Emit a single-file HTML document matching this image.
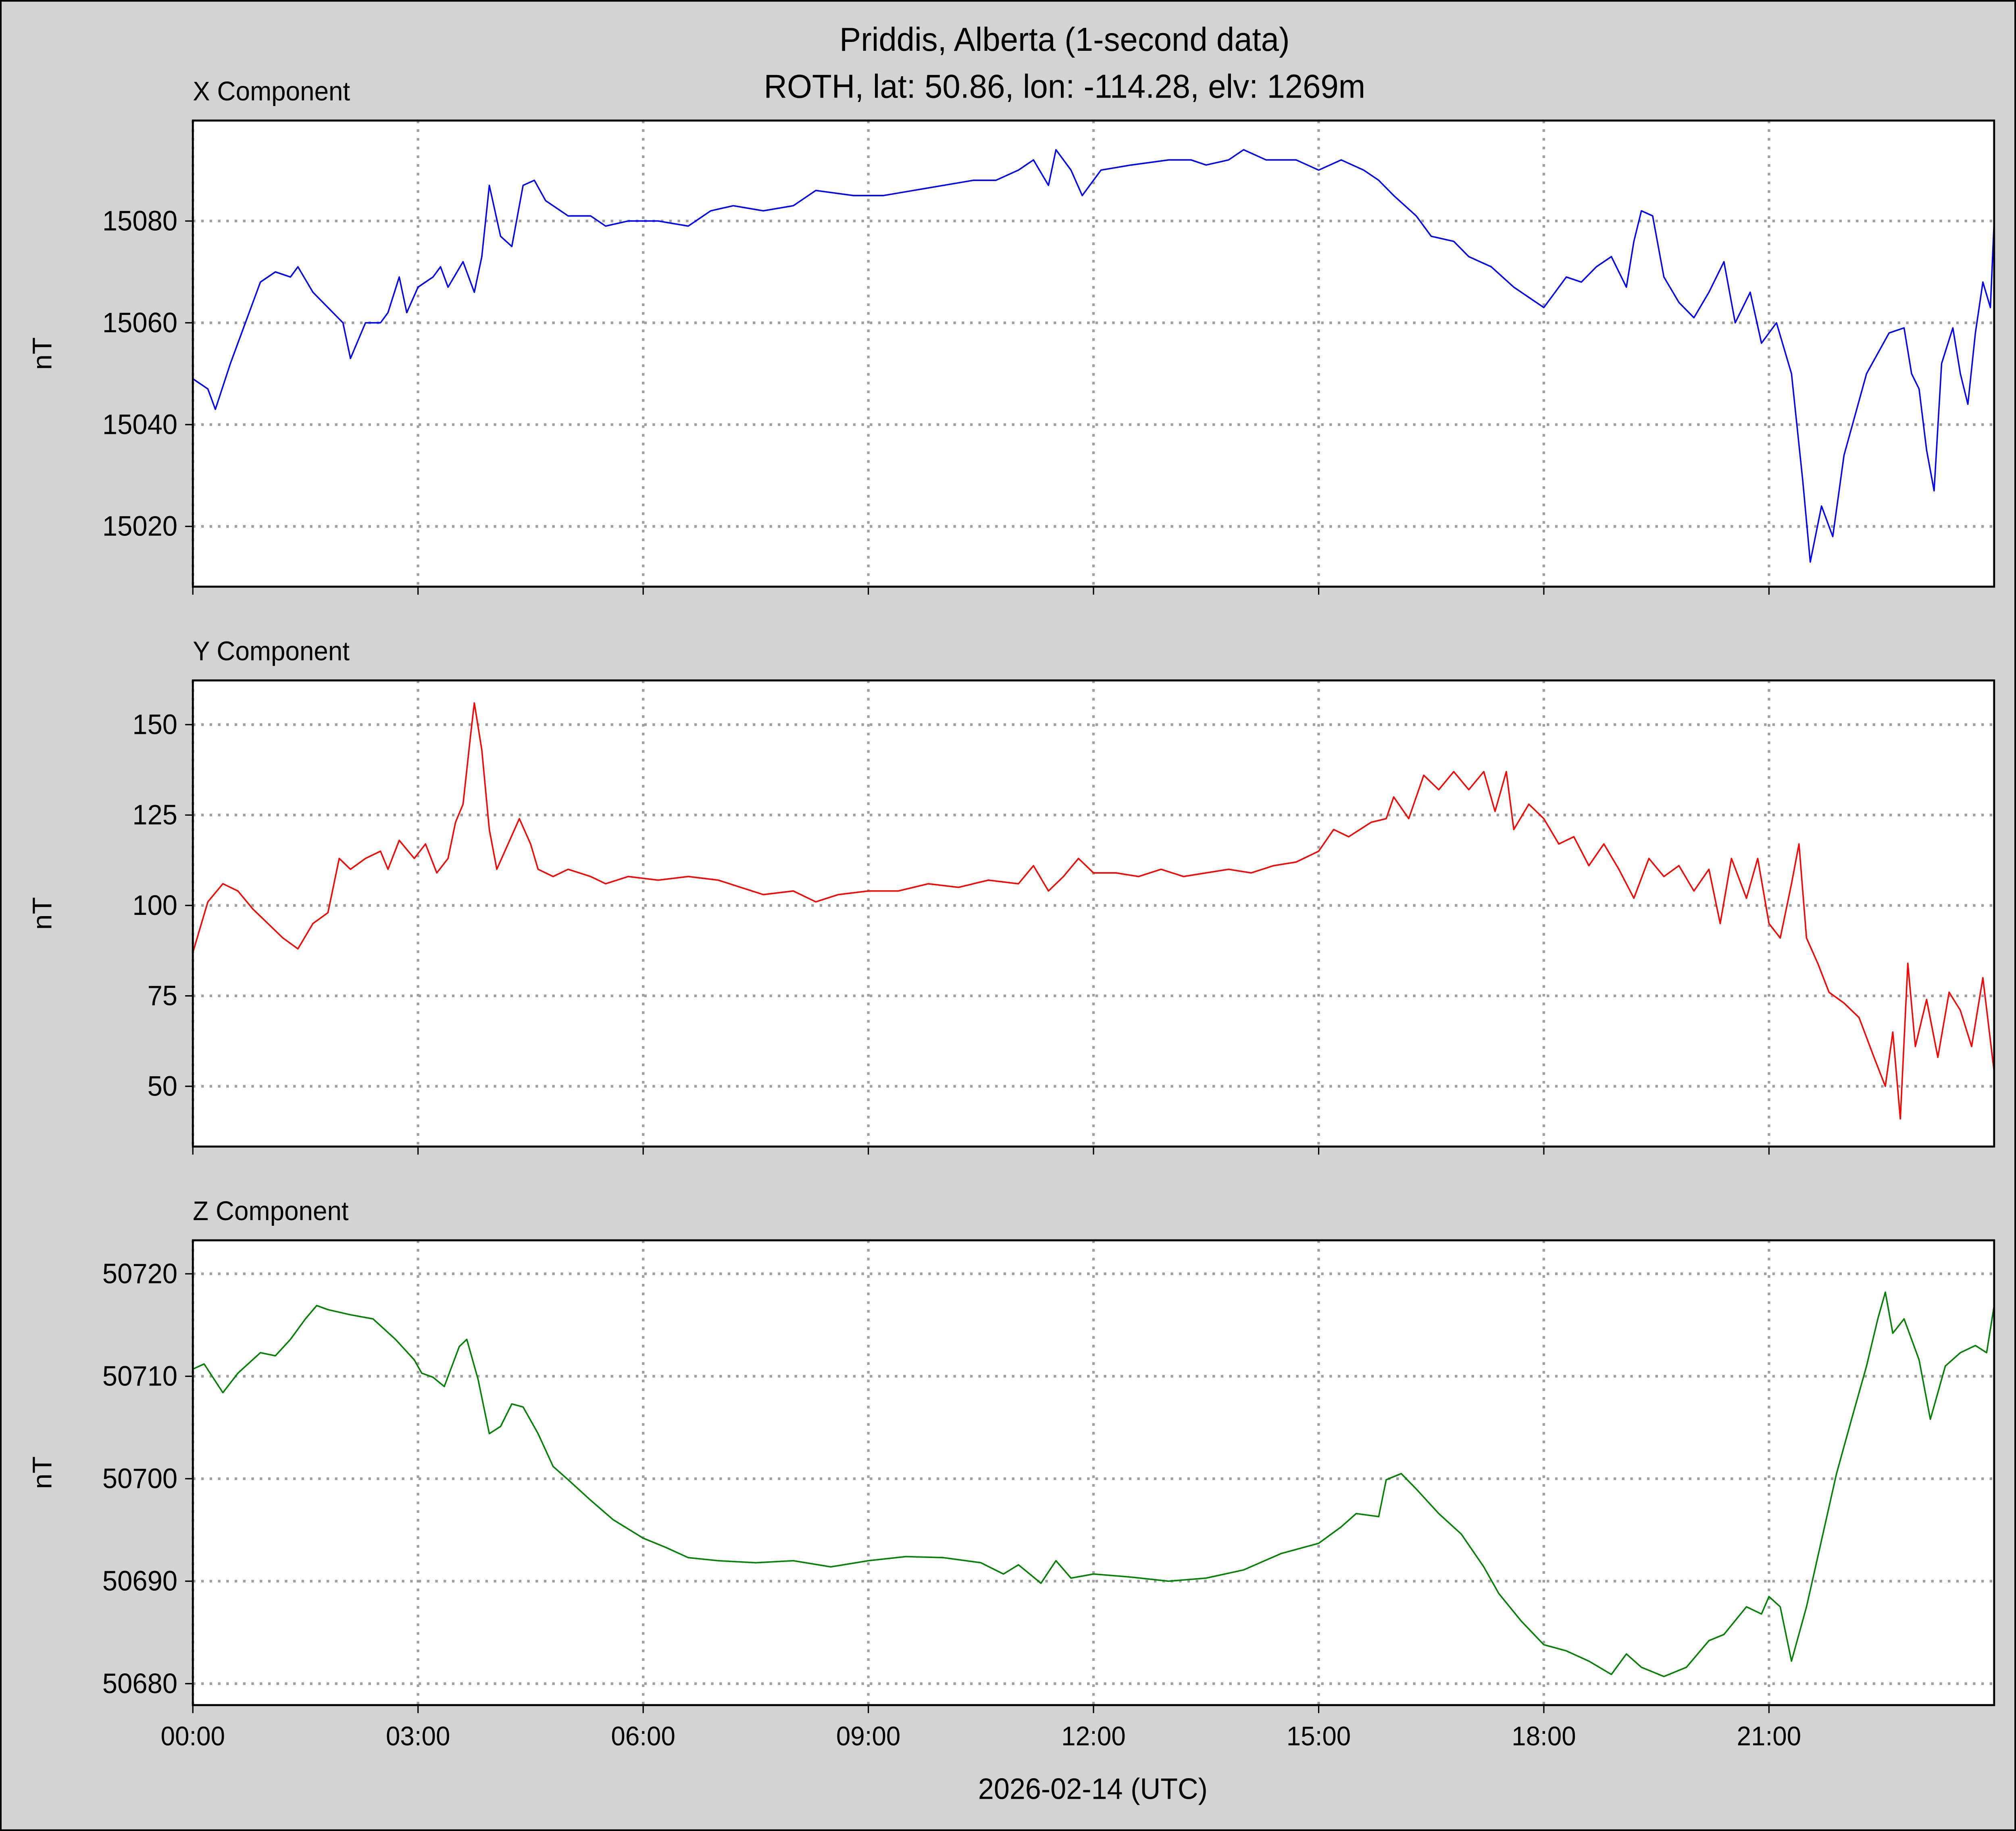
<!DOCTYPE html>
<html><head><meta charset="utf-8"><style>
html,body{margin:0;padding:0;background:#d3d3d3;overflow:hidden;width:100%;height:100%}
svg{display:block;position:fixed;left:0;top:0;width:100vw;height:100vh}
text{font-family:"Liberation Sans","DejaVu Sans",sans-serif;fill:#000}
</style></head><body>
<svg id="fig" viewBox="0 0 1568 1367" preserveAspectRatio="none" xmlns="http://www.w3.org/2000/svg">
<rect x="0.5" y="0.5" width="1567" height="1366" fill="#d3d3d3" stroke="#000" stroke-width="1.5"/>
<text x="828" y="38" font-size="25" text-anchor="middle">Priddis, Alberta (1-second data)</text>
<text x="828" y="73" font-size="25" text-anchor="middle">ROTH, lat: 50.86, lon: -114.28, elv: 1269m</text>
<text x="850" y="1343" font-size="22" text-anchor="middle">2026-02-14 (UTC)</text>
</svg>
<script>
const timeTicks=[0,3,6,9,12,15,18,21];
const timeLabels=["00:00","03:00","06:00","09:00","12:00","15:00","18:00","21:00"];
const xTimes=[0,0.2,0.3,0.5,0.7,0.9,1.1,1.3,1.4,1.6,1.8,2.0,2.1,2.3,2.5,2.6,2.75,2.85,3.0,3.2,3.3,3.4,3.6,3.75,3.85,3.95,4.1,4.25,4.4,4.55,4.7,5.0,5.3,5.5,5.8,6.2,6.6,6.9,7.2,7.6,8.0,8.3,8.8,9.2,9.6,10.0,10.4,10.7,11.0,11.2,11.4,11.5,11.7,11.85,12.1,12.5,13.0,13.3,13.5,13.8,14.0,14.3,14.7,15.0,15.3,15.6,15.8,16.0,16.3,16.5,16.8,17.0,17.3,17.6,17.9,18.0,18.3,18.5,18.7,18.9,19.1,19.2,19.3,19.45,19.6,19.8,20.0,20.2,20.4,20.55,20.75,20.9,21.1,21.3,21.45,21.55,21.7,21.85,22.0,22.15,22.3,22.45,22.6,22.8,22.9,23.0,23.1,23.2,23.3,23.45,23.55,23.65,23.75,23.85,23.95,24.0];
const xValues=[15049,15047,15043,15052,15060,15068,15070,15069,15071,15066,15063,15060,15053,15060,15060,15062,15069,15062,15067,15069,15071,15067,15072,15066,15073,15087,15077,15075,15087,15088,15084,15081,15081,15079,15080,15080,15079,15082,15083,15082,15083,15086,15085,15085,15086,15087,15088,15088,15090,15092,15087,15094,15090,15085,15090,15091,15092,15092,15091,15092,15094,15092,15092,15090,15092,15090,15088,15085,15081,15077,15076,15073,15071,15067,15064,15063,15069,15068,15071,15073,15067,15076,15082,15081,15069,15064,15061,15066,15072,15060,15066,15056,15060,15050,15029,15013,15024,15018,15034,15042,15050,15054,15058,15059,15050,15047,15035,15027,15052,15059,15050,15044,15058,15068,15063,15080];
const yTimes=[0,0.2,0.4,0.6,0.8,1.0,1.2,1.4,1.6,1.8,1.95,2.1,2.3,2.5,2.6,2.75,2.95,3.1,3.25,3.4,3.5,3.6,3.7,3.75,3.85,3.95,4.05,4.2,4.35,4.5,4.6,4.8,5.0,5.3,5.5,5.8,6.2,6.6,7.0,7.3,7.6,8.0,8.3,8.6,9.0,9.4,9.8,10.2,10.6,11.0,11.2,11.4,11.6,11.8,12.0,12.3,12.6,12.9,13.2,13.5,13.8,14.1,14.4,14.7,15.0,15.2,15.4,15.7,15.9,16.0,16.2,16.4,16.6,16.8,17.0,17.2,17.35,17.5,17.6,17.8,18.0,18.2,18.4,18.6,18.8,19.0,19.2,19.4,19.6,19.8,20.0,20.2,20.35,20.5,20.7,20.85,21.0,21.15,21.3,21.4,21.5,21.65,21.8,22.0,22.2,22.4,22.55,22.65,22.75,22.85,22.95,23.1,23.25,23.4,23.55,23.7,23.85,24.0];
const yValues=[87,101,106,104,99,95,91,88,95,98,113,110,113,115,110,118,113,117,109,113,123,128,147,156,143,121,110,117,124,117,110,108,110,108,106,108,107,108,107,105,103,104,101,103,104,104,106,105,107,106,111,104,108,113,109,109,108,110,108,109,110,109,111,112,115,121,119,123,124,130,124,136,132,137,132,137,126,137,121,128,124,117,119,111,117,110,102,113,108,111,104,110,95,113,102,113,95,91,106,117,91,84,76,73,69,58,50,65,41,84,61,74,58,76,71,61,80,54];
const zTimes=[0,0.15,0.4,0.6,0.9,1.1,1.3,1.5,1.65,1.8,2.1,2.4,2.7,2.95,3.05,3.2,3.35,3.55,3.65,3.8,3.95,4.1,4.25,4.4,4.6,4.8,5.0,5.3,5.6,6.0,6.3,6.6,7.0,7.5,8.0,8.5,9.0,9.5,10.0,10.5,10.8,11.0,11.3,11.5,11.7,12.0,12.5,13.0,13.5,14.0,14.5,15.0,15.3,15.5,15.8,15.9,16.1,16.3,16.6,16.9,17.2,17.4,17.7,18.0,18.3,18.6,18.9,19.1,19.3,19.6,19.9,20.2,20.4,20.7,20.9,21.0,21.15,21.3,21.5,21.7,21.9,22.1,22.3,22.45,22.55,22.65,22.8,23.0,23.15,23.35,23.55,23.75,23.9,24.0];
const zValues=[50710.7,50711.2,50708.4,50710.3,50712.3,50712.0,50713.6,50715.6,50716.9,50716.5,50716,50715.6,50713.6,50711.6,50710.3,50709.9,50709,50712.9,50713.6,50709.7,50704.4,50705.1,50707.3,50707,50704.4,50701.2,50699.9,50697.9,50696,50694.2,50693.3,50692.3,50692,50691.8,50692,50691.4,50692,50692.4,50692.3,50691.8,50690.7,50691.6,50689.8,50692,50690.3,50690.7,50690.4,50690,50690.3,50691.1,50692.7,50693.7,50695.3,50696.6,50696.3,50699.9,50700.5,50699,50696.6,50694.6,50691.4,50688.8,50686.1,50683.8,50683.2,50682.2,50680.9,50682.9,50681.6,50680.7,50681.6,50684.2,50684.8,50687.5,50686.8,50688.5,50687.5,50682.2,50687.5,50694,50700.5,50705.8,50711,50715.6,50718.2,50714.2,50715.6,50711.6,50705.8,50711,50712.3,50713,50712.3,50716.9];
const xTicksX=[15020,15040,15060,15080];
const yTicksY=[50,75,100,125,150];
const zTicksZ=[50680,50690,50700,50710,50720];

const NS="http://www.w3.org/2000/svg";
const fig=document.getElementById('fig');
const L=150,R=1551;
const tx=t=>L+(R-L)*t/24;
function mk(tag,attrs,parent){const e=document.createElementNS(NS,tag);for(const k in attrs)e.setAttribute(k,attrs[k]);(parent||fig).appendChild(e);return e;}
function panel(name,top,bot,vTop,vBot,ticks,times,vals,color,title,showX){
  const g=mk('g',{});
  
  
  const vy=v=>bot+(v-vBot)*(top-bot)/(vTop-vBot);
  const bg=mk('rect',{x:L,y:top,width:R-L,height:bot-top,fill:'#fff'},g);
  
  
  timeTicks.forEach((t,i)=>{
    const gl=mk('line',{x1:tx(t),x2:tx(t),y1:top,y2:bot,stroke:'#a0a0a0','stroke-width':2,'stroke-dasharray':'2,4.5'},g);
    
    
    const tk=mk('line',{x1:tx(t),x2:tx(t),y1:bot,y2:bot+6,stroke:'#000','stroke-width':1},g);
    
    
    if(showX){const tl=mk('text',{x:tx(t),y:bot+30,'font-size':20,'text-anchor':'middle'},g);tl.textContent=timeLabels[i];
      
      }
  });
  ticks.forEach(v=>{
    const y=vy(v);
    const gl=mk('line',{x1:L,x2:R,y1:y,y2:y,stroke:'#a0a0a0','stroke-width':2,'stroke-dasharray':'2,4.5'},g);
    
    
    const tk=mk('line',{x1:L-6,x2:L,y1:y,y2:y,stroke:'#000','stroke-width':1},g);
    
    
    const tl=mk('text',{x:L-12,y:y+7,'font-size':21,'text-anchor':'end'},g);tl.textContent=String(v);
    
    
  });
  const pts=times.map((t,i)=>tx(t).toFixed(2)+','+vy(vals[i]).toFixed(2)).join(' ');
  const pl=mk('polyline',{points:pts,fill:'none',stroke:color,'stroke-width':1.1,'stroke-linejoin':'round'},g);
  
  
  const fr=mk('rect',{x:L,y:top,width:R-L,height:bot-top,fill:'none',stroke:'#000','stroke-width':1.5},g);
  
  
  const tt=mk('text',{x:L,y:top-15,'font-size':20},g);tt.textContent=title;
  
  
  const yl=mk('text',{x:0,y:0,'font-size':21,'text-anchor':'middle',transform:'translate(40,'+((top+bot)/2)+') rotate(-90)'},g);yl.textContent='nT';
  
  
}
panel('x-component',90,438,15080+75/3.8,15080-273/3.8,xTicksX,xTimes,xValues,'#0000ff','X Component',false);
panel('y-component',508,856,150+33/2.7,150-315/2.7,yTicksY,yTimes,yValues,'#ff0000','Y Component',false);
panel('z-component',926,1273,50720+25/7.65,50720-322/7.65,zTicksZ,zTimes,zValues,'#008000','Z Component',true);
</script>
</body></html>
